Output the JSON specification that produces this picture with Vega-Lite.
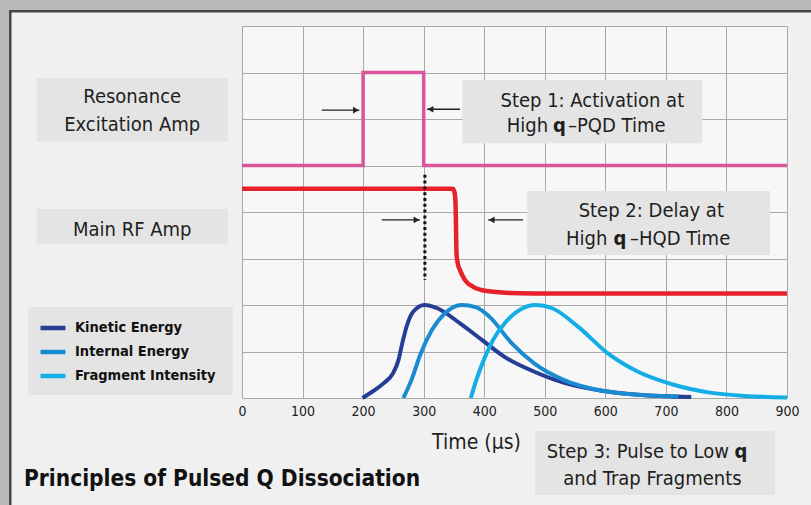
{
  "$schema": "https://vega.github.io/schema/vega-lite/v6.json",
  "width": 545,
  "height": 372,
  "autosize": {"type": "none"},
  "padding": {"left": 242, "top": 26, "right": 24, "bottom": 107},
  "background": "#f0f0f0",
  "config": {
    "font": "DejaVu Sans Condensed",
    "view": {"fill": "#f7f7f7", "stroke": null}
  },
  "datasets": {
    "strips": [
      {"t": -420, "t2": -384.7, "v": -3, "v2": 9},
      {"t": -420, "t2": 1000, "v": 8.344, "v2": 9}
    ],
    "borders": [
      {"t": -384.7, "t2": -380.6, "v": -3, "v2": 8.344},
      {"t": -384.7, "t2": 1000, "v": 8.344, "v2": 8.29}
    ],
    "boxes": [
      {"t": -339, "t2": -23.6, "v": 6.875, "v2": 5.512},
      {"t": -339, "t2": -23.6, "v": 4.065, "v2": 3.305},
      {"t": 363.8, "t2": 760.1, "v": 6.839, "v2": 5.477},
      {"t": 471.1, "t2": 871.9, "v": 4.452, "v2": 3.075},
      {"t": 483.8, "t2": 880.1, "v": -0.71, "v2": -2.086},
      {"t": -352.9, "t2": -15.4, "v": 1.957, "v2": 0.065}
    ],
    "pink": [
      {"i": 0, "t": 0, "v": 5},
      {"i": 1, "t": 200, "v": 5},
      {"i": 2, "t": 200, "v": 7},
      {"i": 3, "t": 300, "v": 7},
      {"i": 4, "t": 300, "v": 5},
      {"i": 5, "t": 900, "v": 5}
    ],
    "red": [
      {"t": 0, "v": 4.5},
      {"t": 348, "v": 4.5},
      {"t": 351, "v": 4.42},
      {"t": 352.6, "v": 4.2},
      {"t": 354.3, "v": 3.1},
      {"t": 356.5, "v": 2.88},
      {"t": 360, "v": 2.75},
      {"t": 368, "v": 2.54},
      {"t": 382, "v": 2.39},
      {"t": 404, "v": 2.3},
      {"t": 442, "v": 2.26},
      {"t": 480, "v": 2.25},
      {"t": 900, "v": 2.25}
    ],
    "dotted": [
      {"t": 302, "v": 4.8, "v2": 2.54}
    ],
    "arrows": [
      {"t": 131.6, "t2": 194, "v": 6.19, "dir": "right"},
      {"t": 360, "t2": 305.5, "v": 6.21, "dir": "left"},
      {"t": 230.7, "t2": 294, "v": 3.83, "dir": "right"},
      {"t": 464, "t2": 406.5, "v": 3.83, "dir": "left"}
    ],
    "curves": [
      {"series": "Kinetic Energy", "t": 199, "v": 0},
      {"series": "Kinetic Energy", "t": 215.6, "v": 0.14},
      {"series": "Kinetic Energy", "t": 234.1, "v": 0.32},
      {"series": "Kinetic Energy", "t": 249.3, "v": 0.53},
      {"series": "Kinetic Energy", "t": 258.5, "v": 0.82},
      {"series": "Kinetic Energy", "t": 264.7, "v": 1.18},
      {"series": "Kinetic Energy", "t": 272.6, "v": 1.57},
      {"series": "Kinetic Energy", "t": 283, "v": 1.86},
      {"series": "Kinetic Energy", "t": 301.4, "v": 2.0},
      {"series": "Kinetic Energy", "t": 322.5, "v": 1.93},
      {"series": "Kinetic Energy", "t": 359.5, "v": 1.61},
      {"series": "Kinetic Energy", "t": 396.2, "v": 1.25},
      {"series": "Kinetic Energy", "t": 432.9, "v": 0.89},
      {"series": "Kinetic Energy", "t": 481.9, "v": 0.57},
      {"series": "Kinetic Energy", "t": 530.9, "v": 0.33},
      {"series": "Kinetic Energy", "t": 592, "v": 0.16},
      {"series": "Kinetic Energy", "t": 653.2, "v": 0.07},
      {"series": "Kinetic Energy", "t": 741.9, "v": 0.02},
      {"series": "Internal Energy", "t": 266.5, "v": 0},
      {"series": "Internal Energy", "t": 279.9, "v": 0.39},
      {"series": "Internal Energy", "t": 295.3, "v": 0.96},
      {"series": "Internal Energy", "t": 313.6, "v": 1.46},
      {"series": "Internal Energy", "t": 335, "v": 1.82},
      {"series": "Internal Energy", "t": 362.6, "v": 2.0},
      {"series": "Internal Energy", "t": 387, "v": 1.95},
      {"series": "Internal Energy", "t": 408.5, "v": 1.75},
      {"series": "Internal Energy", "t": 445.2, "v": 1.18},
      {"series": "Internal Energy", "t": 481.9, "v": 0.75},
      {"series": "Internal Energy", "t": 530.9, "v": 0.39},
      {"series": "Internal Energy", "t": 592, "v": 0.16},
      {"series": "Internal Energy", "t": 653.2, "v": 0.07},
      {"series": "Internal Energy", "t": 720.4, "v": 0.03},
      {"series": "Fragment Intensity", "t": 377.8, "v": 0},
      {"series": "Fragment Intensity", "t": 387, "v": 0.39},
      {"series": "Fragment Intensity", "t": 399.3, "v": 0.82},
      {"series": "Fragment Intensity", "t": 414.6, "v": 1.25},
      {"series": "Fragment Intensity", "t": 435.9, "v": 1.64},
      {"series": "Fragment Intensity", "t": 460.4, "v": 1.91},
      {"series": "Fragment Intensity", "t": 485, "v": 2.0},
      {"series": "Fragment Intensity", "t": 512.4, "v": 1.93},
      {"series": "Fragment Intensity", "t": 555.3, "v": 1.53},
      {"series": "Fragment Intensity", "t": 604.2, "v": 0.96},
      {"series": "Fragment Intensity", "t": 653.2, "v": 0.57},
      {"series": "Fragment Intensity", "t": 714.3, "v": 0.28},
      {"series": "Fragment Intensity", "t": 775.6, "v": 0.11},
      {"series": "Fragment Intensity", "t": 836.7, "v": 0.04},
      {"series": "Fragment Intensity", "t": 900, "v": 0.01}
    ],
    "textCenter": [
      {"t": -181.3, "v": 6.338, "label": "Resonance"},
      {"t": -181.3, "v": 5.748, "label": "Excitation Amp"},
      {"t": -181.3, "v": 3.49, "label": "Main RF Amp"},
      {"t": 578.5, "v": 6.265, "label": "Step 1:  Activation at"},
      {"t": 675.9, "v": 3.886, "label": "Step 2:  Delay at"},
      {"t": 677.8, "v": -1.871, "label": "and Trap Fragments"}
    ],
    "textRight": [
      {"t": 505.5, "v": 5.714, "label": "High"},
      {"t": 603.5, "v": 3.29, "label": "High"},
      {"t": 804, "v": -1.297, "label": "Step 3:  Pulse to Low"}
    ],
    "textLeft": [
      {"t": 538.3, "v": 5.714, "label": "–PQD Time"},
      {"t": 640.7, "v": 3.29, "label": "–HQD Time"}
    ],
    "textQ": [
      {"t": 524.3, "v": 5.714, "label": "q"},
      {"t": 624.2, "v": 3.29, "label": "q"},
      {"t": 823.8, "v": -1.297, "label": "q"}
    ],
    "title": [
      {"t": -360, "v": -1.892, "label": "Principles of Pulsed Q Dissociation"}
    ]
  },
  "encoding": {
    "x": {
      "field": "t",
      "type": "quantitative",
      "title": "Time (µs)",
      "scale": {"domain": [0, 900], "nice": false, "zero": false},
      "axis": {
        "values": [0, 100, 200, 300, 400, 500, 600, 700, 800, 900],
        "grid": true,
        "gridColor": "#a9a9a9",
        "gridWidth": 1,
        "domain": false,
        "ticks": false,
        "tickSize": 0,
        "labelPadding": 6,
        "labelFontSize": 14,
        "labelColor": "#222222",
        "labelFlush": false,
        "labelOverlap": false,
        "title": "Time (µs)",
        "titleFontSize": 21,
        "titleFontWeight": "normal",
        "titleColor": "#1e1e1e",
        "titleX": 234,
        "titleY": 50,
        "titleBaseline": "alphabetic",
        "titleAlign": "center"
      }
    },
    "y": {
      "field": "v",
      "type": "quantitative",
      "scale": {"domain": [0, 8], "nice": false, "zero": false},
      "axis": {
        "values": [0, 1, 2, 3, 4, 5, 6, 7, 8],
        "grid": true,
        "gridColor": "#a9a9a9",
        "gridWidth": 1,
        "labels": false,
        "ticks": false,
        "domain": false,
        "title": null
      }
    }
  },
  "layer": [
    {
      "data": {"name": "strips"},
      "mark": {"type": "rect", "color": "#b9b9b9"},
      "encoding": {"x2": {"field": "t2"}, "y2": {"field": "v2"}}
    },
    {
      "data": {"name": "borders"},
      "mark": {"type": "rect", "color": "#464646"},
      "encoding": {"x2": {"field": "t2"}, "y2": {"field": "v2"}}
    },
    {
      "data": {"name": "boxes"},
      "mark": {"type": "rect", "color": "#e4e4e4"},
      "encoding": {"x2": {"field": "t2"}, "y2": {"field": "v2"}}
    },
    {
      "data": {"name": "pink"},
      "mark": {"type": "line", "color": "#d9559c", "strokeWidth": 3.5, "strokeJoin": "miter"},
      "encoding": {"order": {"field": "i", "type": "quantitative"}}
    },
    {
      "data": {"name": "red"},
      "mark": {"type": "line", "color": "#e6212a", "strokeWidth": 4.5, "interpolate": "monotone"},
      "encoding": {}
    },
    {
      "data": {"name": "dotted"},
      "mark": {"type": "rule", "color": "#111111", "strokeWidth": 3, "strokeDash": [3, 2.8]},
      "encoding": {"y2": {"field": "v2"}}
    },
    {
      "data": {"name": "arrows"},
      "mark": {"type": "rule", "color": "#222222", "strokeWidth": 1.3},
      "encoding": {"x2": {"field": "t2"}}
    },
    {
      "data": {"name": "arrows"},
      "transform": [{"filter": "datum.dir == 'right'"}],
      "mark": {"type": "point", "shape": "triangle-right", "filled": true, "color": "#222222", "size": 45, "opacity": 1, "xOffset": -3.5},
      "encoding": {"x": {"field": "t2", "type": "quantitative", "scale": {"domain": [0, 900], "nice": false, "zero": false}}}
    },
    {
      "data": {"name": "arrows"},
      "transform": [{"filter": "datum.dir == 'left'"}],
      "mark": {"type": "point", "shape": "triangle-left", "filled": true, "color": "#222222", "size": 45, "opacity": 1, "xOffset": 3.5},
      "encoding": {"x": {"field": "t2", "type": "quantitative", "scale": {"domain": [0, 900], "nice": false, "zero": false}}}
    },
    {
      "data": {"name": "curves"},
      "mark": {"type": "line", "strokeWidth": 4, "interpolate": "monotone", "strokeCap": "butt"},
      "encoding": {
        "color": {
          "field": "series",
          "type": "nominal",
          "scale": {
            "domain": ["Kinetic Energy", "Internal Energy", "Fragment Intensity"],
            "range": ["#263d96", "#1a8bd0", "#14aee6"]
          },
          "legend": {
            "orient": "none",
            "legendX": -204,
            "legendY": 287,
            "title": null,
            "padding": 0,
            "symbolType": "stroke",
            "symbolSize": 625,
            "symbolStrokeWidth": 4.5,
            "labelFontSize": 14.5,
            "labelFontWeight": "bold",
            "labelColor": "#111111",
            "labelOffset": 7,
            "rowPadding": -0.5
          }
        }
      }
    },
    {
      "data": {"name": "textCenter"},
      "mark": {"type": "text", "fontSize": 20, "align": "center", "baseline": "alphabetic", "color": "#1e1e1e"},
      "encoding": {"text": {"field": "label"}}
    },
    {
      "data": {"name": "textRight"},
      "mark": {"type": "text", "fontSize": 20, "align": "right", "baseline": "alphabetic", "color": "#1e1e1e"},
      "encoding": {"text": {"field": "label"}}
    },
    {
      "data": {"name": "textLeft"},
      "mark": {"type": "text", "fontSize": 20, "align": "left", "baseline": "alphabetic", "color": "#1e1e1e"},
      "encoding": {"text": {"field": "label"}}
    },
    {
      "data": {"name": "textQ"},
      "mark": {"type": "text", "fontSize": 20, "fontWeight": "bold", "align": "center", "baseline": "alphabetic", "color": "#1e1e1e"},
      "encoding": {"text": {"field": "label"}}
    },
    {
      "data": {"name": "title"},
      "mark": {"type": "text", "fontSize": 22.5, "fontWeight": "bold", "align": "left", "baseline": "alphabetic", "color": "#111111"},
      "encoding": {"text": {"field": "label"}}
    }
  ]
}
